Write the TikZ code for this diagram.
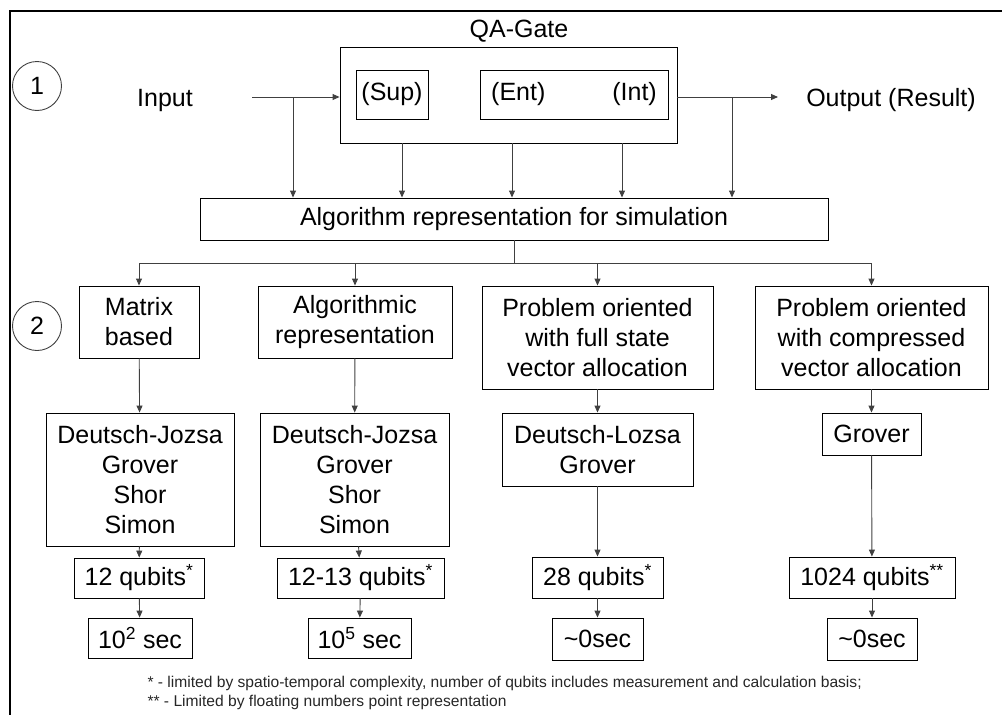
\documentclass[tikz,border=0pt]{standalone}
\usepackage{fontspec}
\setmainfont{Liberation Sans}
\usepackage{xcolor}
\usepackage{tikz}
\usetikzlibrary{arrows.meta, positioning}
\definecolor{linegray}{RGB}{64, 64, 64}

\begin{document}
\begin{tikzpicture}[x=1pt, y=-1pt, font=\fontsize{25}{30}\selectfont,
    box/.style={rectangle, draw, line width=0.9pt, inner sep=0pt, align=center},
    arr/.style={-{Triangle[length=7pt, width=6pt]}, draw=linegray, line width=0.9pt},
    num/.style={circle, draw=linegray, line width=0.9pt, minimum size=49pt, inner sep=0pt}]
    \useasboundingbox (0,0) rectangle (1002,715);
    % frame
    \draw[line width=2.5pt] (1002,11) -- (10,11) -- (10,715);

    % step 1: QA-Gate
    \node[num] (c1) at (37,86) {1};
    \node[anchor=base] (inp) at (165,106) {Input};
    \node[box, minimum width=337pt, minimum height=96pt] (gate) at (508.5,95) {};
    \node[anchor=base] (gatelbl) at (519,37) {QA-Gate};
    \node[box, minimum width=72pt, minimum height=49pt] (sup) at (392,94.5) {(Sup)};
    \node[box, minimum width=188pt, minimum height=49pt] (entint) at (574,94.5) {(Ent)\hspace{67pt}(Int)};
    \node[anchor=base] (out) at (891,106) {Output (Result)};
    \node[box, minimum width=628pt, minimum height=42pt] (algo) at (514,219) {Algorithm representation for simulation};

    \coordinate (inbeg) at (252,97);
    \coordinate (injn) at (293,97);
    \coordinate (outend) at (778,97);
    \coordinate (outjn) at (732,97);
    \draw[arr] (inbeg) -- (inbeg -| gate.west);
    \draw[arr] (injn) -- (injn |- algo.north);
    \draw[arr] (gate.east |- outend) -- (outend);
    \draw[arr] (outjn) -- (outjn |- algo.north);
    \foreach \x in {402,512,622}
        \draw[arr] (gate.south -| \x,0) -- (algo.north -| \x,0);

    % step 2: simulation approaches
    \node[num] (c2) at (37,326) {2};
    \node[box, minimum width=120pt, minimum height=72pt] (mat) at (139,322) {Matrix\\based};
    \node[box, minimum width=194pt, minimum height=72pt] (algrep) at (355,322) {Algorithmic\\representation};
    \node[box, minimum width=231pt, minimum height=103pt] (full) at (597.5,337.5) {Problem oriented\\with full state\\vector allocation};
    \node[box, minimum width=233pt, minimum height=103pt] (comp) at (871.5,337.5) {Problem oriented\\with compressed\\vector allocation};

    \coordinate (bus) at (514,263);
    \draw[draw=linegray, line width=0.9pt] (algo) -- (bus);
    \foreach \n in {mat, algrep, full, comp}
        \draw[arr] (bus) -| (\n.north);

    % algorithms
    \node[box, minimum width=188pt, minimum height=133pt] (dj1) at (140,479.5) {Deutsch-Jozsa\\Grover\\Shor\\Simon};
    \node[box, minimum width=189pt, minimum height=133pt] (dj2) at (354.5,479.5) {Deutsch-Jozsa\\Grover\\Shor\\Simon};
    \node[box, minimum width=191pt, minimum height=73pt] (dl) at (597.5,449.5) {Deutsch-Lozsa\\Grover};
    \node[box, minimum width=99pt, minimum height=42pt] (grov) at (871.5,434) {Grover};

    % qubits
    \node[box, minimum width=130pt, minimum height=40pt] (q1) at (139,578) {12 qubits\textsuperscript{*}};
    \node[box, minimum width=167pt, minimum height=40pt] (q2) at (360.5,578) {12-13 qubits\textsuperscript{*}};
    \node[box, minimum width=131pt, minimum height=41pt] (q3) at (597.5,577.5) {28 qubits\textsuperscript{*}};
    \node[box, minimum width=166pt, minimum height=41pt] (q4) at (872,577.5) {1024 qubits\textsuperscript{**}};

    % time
    \node[box, minimum width=104pt, minimum height=40pt] (s1) at (140,638) {10\textsuperscript{2} sec};
    \node[box, minimum width=103pt, minimum height=40pt] (s2) at (359.5,638) {10\textsuperscript{5} sec};
    \node[box, minimum width=91pt, minimum height=42pt] (s3) at (597.5,639) {\textasciitilde 0sec};
    \node[box, minimum width=90pt, minimum height=42pt] (s4) at (872,639) {\textasciitilde 0sec};

    \foreach \a/\b in {mat/dj1, dj1/q1, q1/s1, algrep/dj2, dj2/q2, q2/s2,
                       full/dl, dl/q3, q3/s3, comp/grov, grov/q4, q4/s4}
        \draw[arr] (\a) -- (\b);

    % notes
    \node[anchor=base west, font=\fontsize{15.6}{18}\selectfont, text=black!85] (fn1) at (144,687)
        {* - limited by spatio-temporal complexity, number of qubits includes measurement and calculation basis;};
    \node[anchor=base west, font=\fontsize{15.6}{18}\selectfont, text=black!85] (fn2) at (144,706)
        {** - Limited by floating numbers point representation};
\end{tikzpicture}
\end{document}
